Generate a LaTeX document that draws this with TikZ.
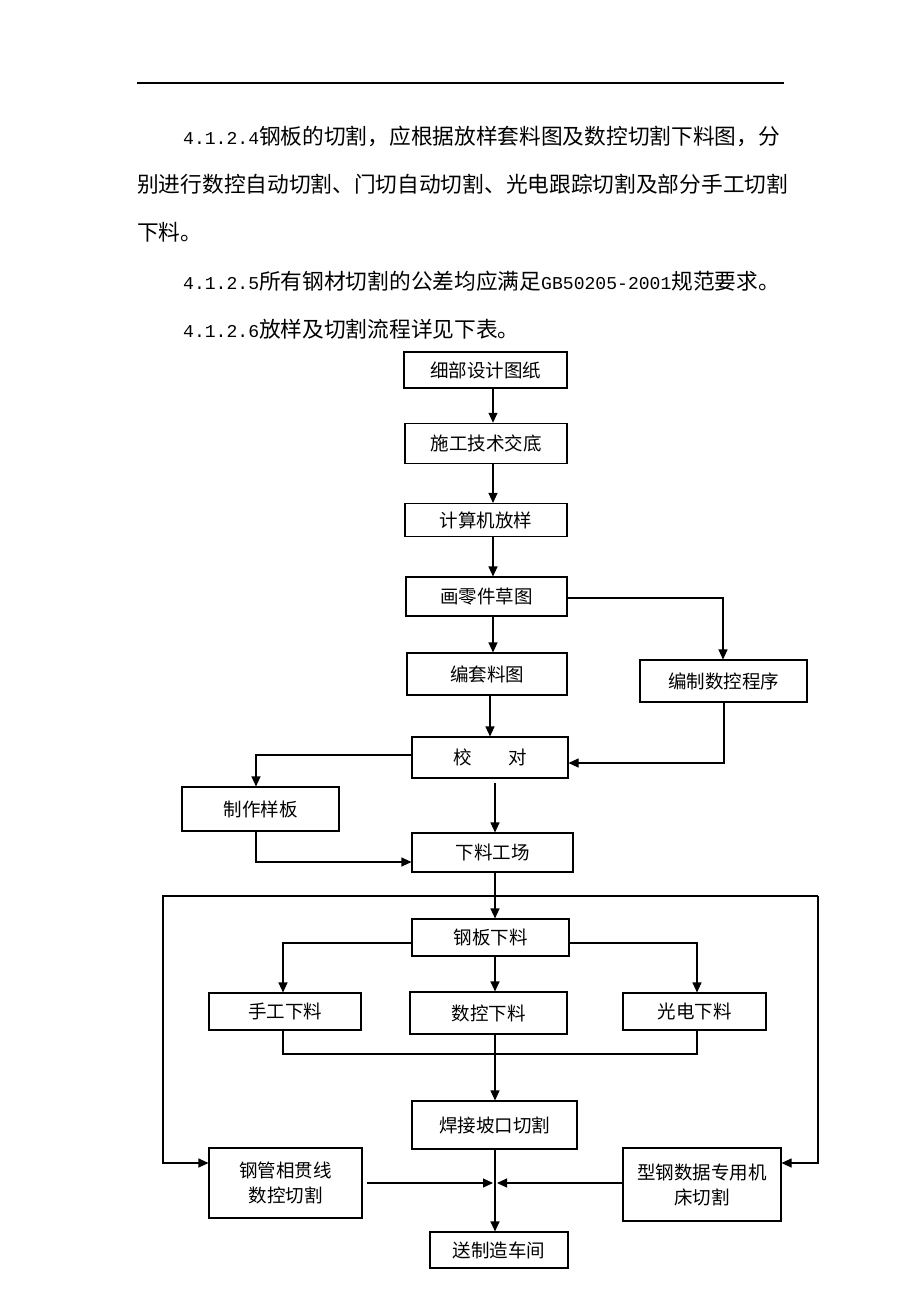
\documentclass[tikz,border=0pt]{standalone}
\usepackage{fontspec}
\newfontfamily\cjk{Noto Sans CJK SC}
\newfontfamily\monof{Liberation Mono}
\usetikzlibrary{arrows.meta}
\newcommand\bodyf{\cjk\fontsize{21.7}{47}\selectfont}
\newcommand\numf[1]{{\monof\fontsize{18.08}{47}\selectfont #1}}
\newcommand\boxf{\cjk\fontsize{18.5}{25}\selectfont}
\makeatletter
\def\spr@#1#2{#1\ifx\relax#2\else\hfil\expandafter\spr@\expandafter#2\fi}
\newcommand\spreadline[2]{\makebox[#1][s]{\spr@#2\relax}}
\makeatother
\begin{document}
\begin{tikzpicture}[x=1pt,y=-1pt,
  box/.style={draw, line width=1.1pt, inner sep=0pt, font=\boxf, align=center},
  arr/.style={line width=1.1pt, -{Triangle[length=10pt,width=9pt]}},
  ln/.style={line width=1.1pt},
  txt/.style={anchor=base west, inner sep=0pt, font=\bodyf}]
\fill[white] (0,0) rectangle (920,1302);
\useasboundingbox (0,0) rectangle (920,1302);

% header rule
\draw[line width=1.3pt] (137,83) -- (784,83);

% paragraph text
\node[txt] (p1) at (183,144.7) {\numf{4.1.2.4}钢板的切割，应根据放样套料图及数控切割下料图，分};
\node[txt] (p2) at (137,192) {\spreadline{643pt}{别进行数控自动切割、门切自动切割、光电跟踪切割及部分手工切割}};
\node[txt] (p3) at (137,240.7) {下料。};
\node[txt] (p4) at (183,289.7) {\numf{4.1.2.5}所有钢材切割的公差均应满足\numf{GB50205-2001}规范要求。};
\node[txt] (p5) at (183,337) {\numf{4.1.2.6}放样及切割流程详见下表。};

% boxes
\node[box, minimum width=163pt, minimum height=36pt] (n1) at (485.5,370) {细部设计图纸};
\node[box, minimum width=162pt, minimum height=40pt] (n2) at (486,443.3) {施工技术交底};
\node[box, minimum width=162pt, minimum height=33pt] (n3) at (486,520) {计算机放样};
\node[box, minimum width=161pt, minimum height=39pt] (n4) at (486.5,596.5) {画零件草图};
\node[box, minimum width=160pt, minimum height=42pt] (n5) at (487,674) {编套料图};
\node[box, minimum width=167pt, minimum height=42pt] (n6) at (723.5,681) {编制数控程序};
\node[box, minimum width=156pt, minimum height=41pt] (n7) at (490,757.5) {校\hspace{2em}对};
\node[box, minimum width=157pt, minimum height=44pt] (n8) at (260.5,809) {制作样板};
\node[box, minimum width=161pt, minimum height=39pt] (n9) at (492.5,852.5) {下料工场};
\node[box, minimum width=157pt, minimum height=37pt] (n10) at (490.5,937.5) {钢板下料};
\node[box, minimum width=152pt, minimum height=37pt] (n11) at (285,1011.5) {手工下料};
\node[box, minimum width=157pt, minimum height=42pt] (n12) at (488.5,1013) {数控下料};
\node[box, minimum width=143pt, minimum height=37pt] (n13) at (694.5,1011.5) {光电下料};
\node[box, minimum width=165pt, minimum height=48pt] (n14) at (494.5,1125) {焊接坡口切割};
\node[box, minimum width=153pt, minimum height=70pt] (n15) at (285.5,1183) {钢管相贯线\\数控切割};
\node[box, minimum width=158pt, minimum height=73pt] (n16) at (702,1184.5) {型钢数据专用机\\床切割};
\node[box, minimum width=138pt, minimum height=36pt] (n17) at (499,1250) {送制造车间};

% helper coordinates
\coordinate (xA) at (493,0);
\coordinate (xB) at (490,0);
\coordinate (xC) at (495,783);
\coordinate (k0) at (723,598);
\coordinate (k1) at (724,763);
\coordinate (k2) at (256,755);
\coordinate (k3) at (256,862);
\coordinate (fL) at (163,896);
\coordinate (fR) at (818,896);
\coordinate (fLb) at (163,1163);
\coordinate (fRb) at (818,1163);
\coordinate (bL) at (283,943);
\coordinate (bR) at (697,943);
\coordinate (mL) at (283,1054);
\coordinate (mR) at (697,1054);
\coordinate (sL) at (367,1183);
\coordinate (tL) at (493,1183);
\coordinate (tR) at (497,1183);

% connectors
\draw[arr] (n1.south -| xA) -- (n2.north -| xA);
\draw[arr] (n2.south -| xA) -- (n3.north -| xA);
\draw[arr] (n3.south -| xA) -- (n4.north -| xA);
\draw[arr] (n4.south -| xA) -- (n5.north -| xA);
\draw[arr] (n4.east |- k0) -- (k0) -- (n6.north -| k0);
\draw[arr] (n5.south -| xB) -- (n7.north -| xB);
\draw[arr] (n6.south -| k1) -- (k1) -- (n7.east |- k1);
\draw[arr] (n7.west |- k2) -- (k2) -- (n8.north -| k2);
\draw[arr] (xC) -- (n9.north -| xC);
\draw[arr] (n8.south -| k3) -- (k3) -- (n9.west |- k3);
\draw[arr] (n9.south -| xC) -- (n10.north -| xC);
\draw[arr] (fR) -- (fL) -- (fLb) -- (n15.west |- fLb);
\draw[arr] (fR) -- (fRb) -- (n16.east |- fRb);
\draw[arr] (n10.west |- bL) -- (bL) -- (n11.north -| bL);
\draw[arr] (n10.east |- bR) -- (bR) -- (n13.north -| bR);
\draw[arr] (n10.south -| xC) -- (n12.north -| xC);
\draw[ln] (n11.south -| mL) -- (mL) -- (mR) -- (n13.south -| mR);
\draw[arr] (n12.south -| xC) -- (n14.north -| xC);
\draw[arr] (n14.south -| xC) -- (n17.north -| xC);
\draw[arr] (sL) -- (tL);
\draw[arr] (n16.west |- tR) -- (tR);
\end{tikzpicture}
\end{document}
